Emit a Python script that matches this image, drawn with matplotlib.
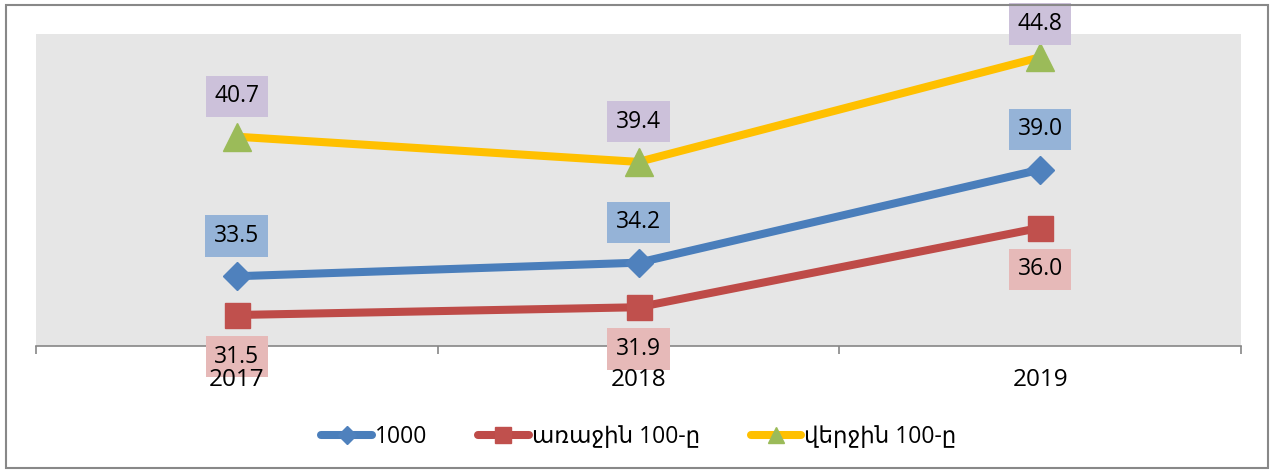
import matplotlib.pyplot as plt
from matplotlib.lines import Line2D

years = ["2017", "2018", "2019"]
all_1000 = [33.5, 34.2, 39.0]
first_100 = [31.5, 31.9, 36.0]
last_100 = [40.7, 39.4, 44.8]
series_names = ["1000", "առաջին 100-ը", "վերջին 100-ը"]

plt.rcParams['font.family'] = ['Open Sans', 'DejaVu Sans']

fig = plt.figure(figsize=(12.73, 4.72), dpi=100)
ax = fig.add_axes([36 / 1273, 1 - 346 / 472, 1205 / 1273, 312 / 472])
ax.set_facecolor('#E6E6E6')

x = list(range(len(years)))
ax.plot(x, all_1000, color='#4A7EBB', lw=5.8, marker='D', ms=14,
        mfc='#4F81BD', mec='#4F81BD', solid_capstyle='round', zorder=2.1)
ax.plot(x, first_100, color='#BE4B48', lw=5.8, marker='s', ms=18,
        mfc='#C0504D', mec='#C0504D', solid_capstyle='round', zorder=2.1)
ax.plot(x, last_100, color='#FFC000', lw=5.8, marker='^', ms=20,
        mfc='#9BBB59', mec='#9BBB59', solid_capstyle='round', zorder=2.15)

def label(xs, ys, offsets, fc):
    for xi, yi, dy in zip(xs, ys, offsets):
        ax.annotate(f"{yi:.1f}", (xi, yi), xytext=(0, dy), textcoords='offset points',
                    ha='center', va='center', fontsize=16.5, color='black',
                    bbox=dict(boxstyle='square,pad=0.38', fc=fc, ec='none'),
                    zorder=2.6, annotation_clip=False)

label(x, all_1000, [29, 29, 29], '#95B3D7')
label(x, first_100, [-30, -30, -30], '#E6B9B8')
# top label pushed down a bit so it stays inside the chart frame
label(x, last_100, [29, 29, 24], '#CCC1DA')

ax.set_xlim(-0.5, 2.5)
ax.set_ylim(29.9, 46.0)
ax.set_yticks([])
ax.set_xticks(x)
ax.set_xticklabels(years, fontsize=17.5)
ax.set_xticks([-0.5, 0.5, 1.5, 2.5], minor=True)
ax.tick_params(axis='x', which='major', length=0, pad=16)
ax.tick_params(axis='x', which='minor', length=6, color='#868686', width=1.2)
ax.xaxis.set_zorder(3)
for s in ['top', 'left', 'right']:
    ax.spines[s].set_visible(False)
ax.spines['bottom'].set_color('#868686')
ax.spines['bottom'].set_linewidth(1.2)

handles = [
    Line2D([], [], color='#4A7EBB', lw=5.8, marker='D', ms=9, mfc='#4F81BD', mec='#4F81BD', solid_capstyle='round'),
    Line2D([], [], color='#BE4B48', lw=5.8, marker='s', ms=11, mfc='#C0504D', mec='#C0504D', solid_capstyle='round'),
    Line2D([], [], color='#FFC000', lw=5.8, marker='^', ms=12, mfc='#9BBB59', mec='#9BBB59', solid_capstyle='round'),
]
fig.legend(handles, series_names, loc='center', bbox_to_anchor=(0.502, 1 - 437 / 472),
           ncol=3, frameon=False, fontsize=16.5, handlelength=2.2, handletextpad=0.15,
           columnspacing=2.2)

border = plt.Rectangle((6 / 1273, 4 / 472), 1262 / 1273, 463 / 472, transform=fig.transFigure,
                       fill=False, ec='#888888', lw=1.5)
fig.patches.append(border)

fig.savefig('out.png', dpi=100)
